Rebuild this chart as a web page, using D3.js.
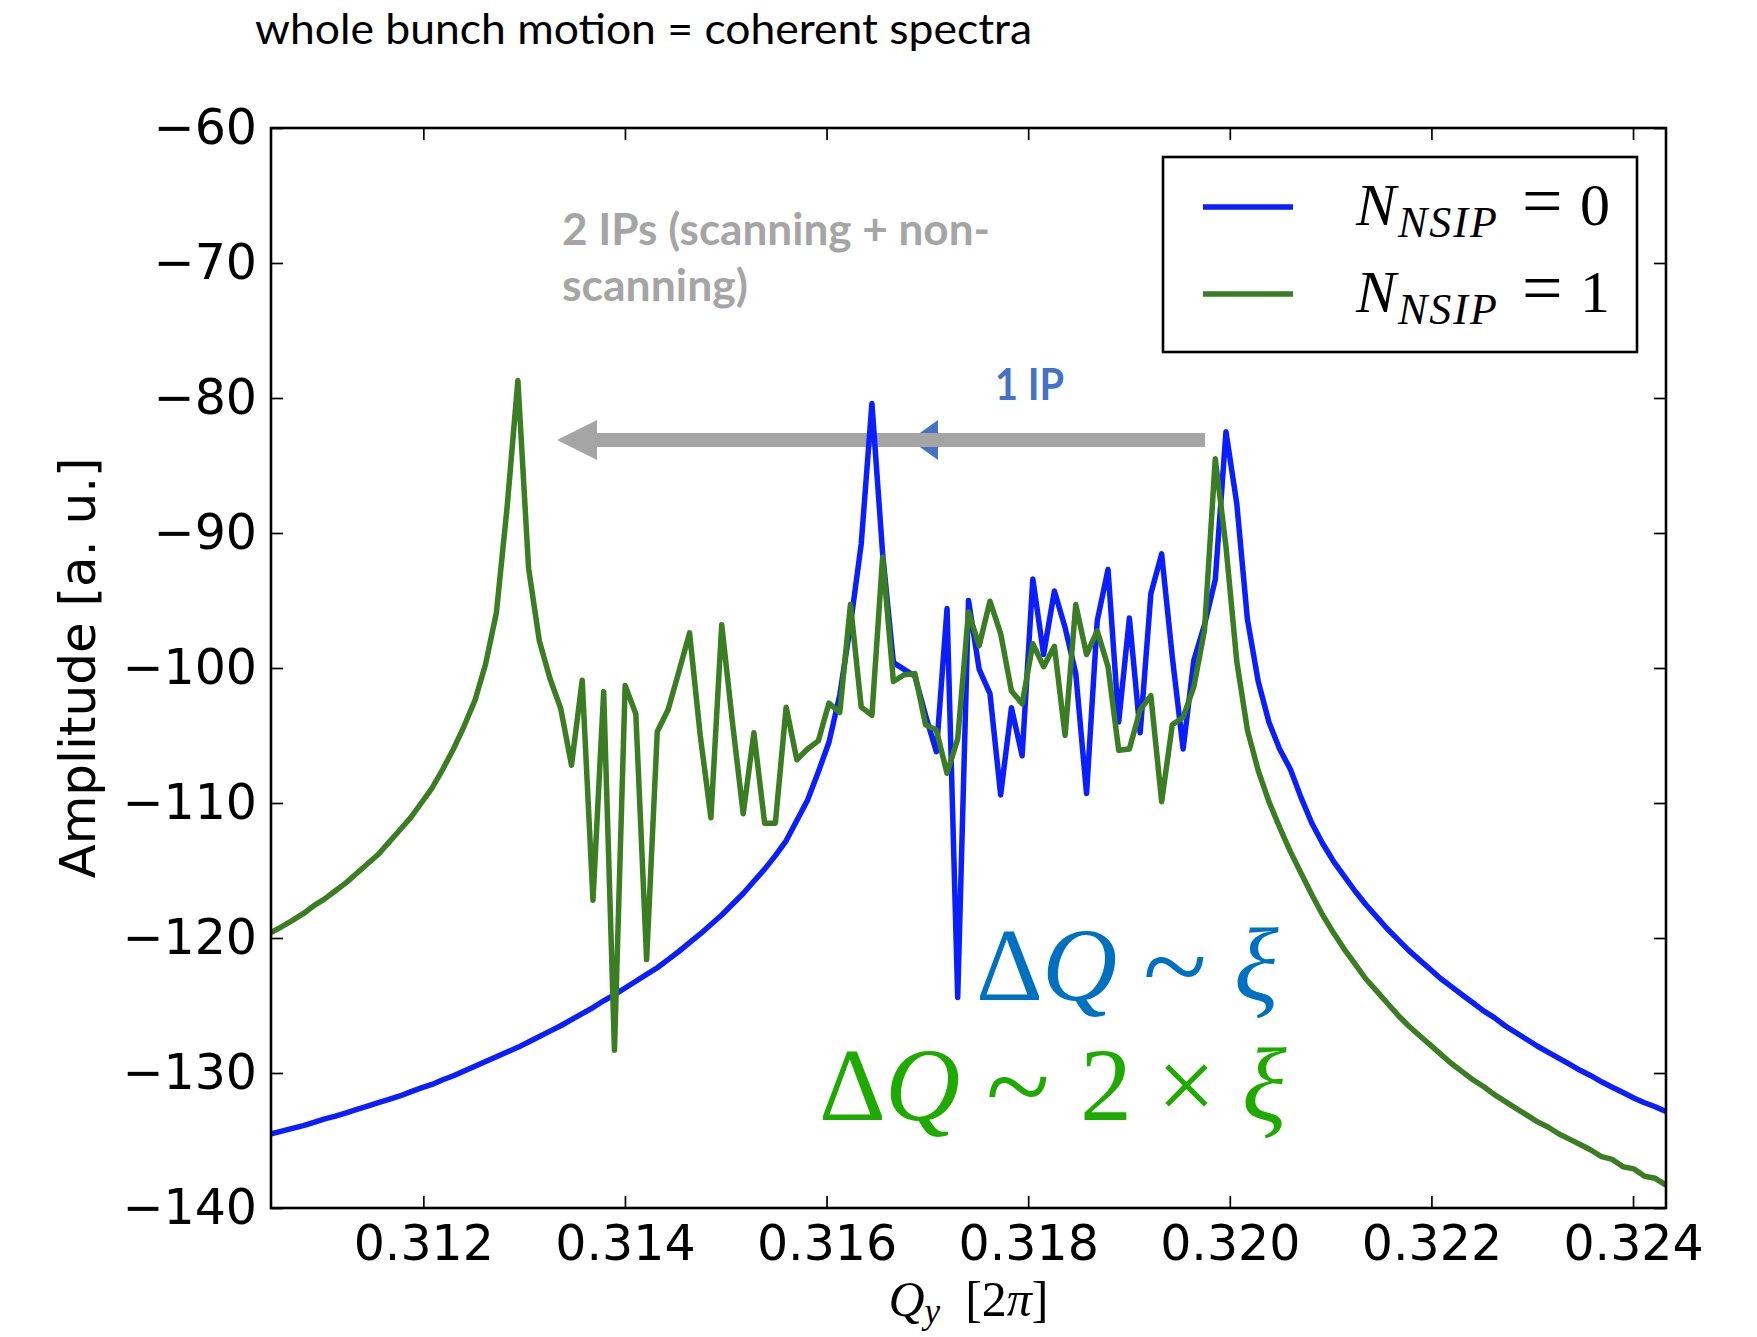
<!DOCTYPE html>
<html>
<head>
<meta charset="utf-8">
<script src="https://cdn.jsdelivr.net/npm/d3@7"></script>
<style>
body { margin: 0; background: #fff; }
svg { display: block; }
</style>
</head>
<body>
<script>
//tune bins (Q_y) shared by both spectra
var qBins = [
    0.310489, 0.310596, 0.310702, 0.310809, 0.310915, 0.311022, 0.311128, 0.311235, 0.311341, 0.311447,
    0.311554, 0.311660, 0.311767, 0.311873, 0.311980, 0.312086, 0.312193, 0.312299, 0.312405, 0.312512,
    0.312618, 0.312725, 0.312831, 0.312938, 0.313044, 0.313151, 0.313257, 0.313363, 0.313470, 0.313576,
    0.313683, 0.313789, 0.313896, 0.314002, 0.314108, 0.314215, 0.314321, 0.314428, 0.314534, 0.314641,
    0.314747, 0.314853, 0.314960, 0.315066, 0.315173, 0.315279, 0.315386, 0.315492, 0.315599, 0.315705,
    0.315811, 0.315918, 0.316024, 0.316131, 0.316237, 0.316344, 0.316450, 0.316556, 0.316663, 0.316769,
    0.316876, 0.316982, 0.317089, 0.317195, 0.317301, 0.317408, 0.317514, 0.317621, 0.317727, 0.317834,
    0.317940, 0.318046, 0.318153, 0.318260, 0.318366, 0.318472, 0.318579, 0.318685, 0.318792, 0.318898,
    0.319004, 0.319111, 0.319217, 0.319324, 0.319430, 0.319537, 0.319643, 0.319749, 0.319856, 0.319962,
    0.320069, 0.320175, 0.320282, 0.320388, 0.320494, 0.320601, 0.320707, 0.320814, 0.320921, 0.321027,
    0.321133, 0.321240, 0.321346, 0.321453, 0.321559, 0.321666, 0.321772, 0.321878, 0.321985, 0.322091,
    0.322198, 0.322304, 0.322411, 0.322517, 0.322624, 0.322730, 0.322836, 0.322943, 0.323049, 0.323156,
    0.323262, 0.323369, 0.323475, 0.323582, 0.323688, 0.323794, 0.323901, 0.324007, 0.324114, 0.324220,
    0.324327
];

//amplitude, N_NSIP = 0 (blue)
var ampNsip0 = [
    -134.5, -134.3, -134.1, -133.9, -133.65, -133.4, -133.2, -132.95, -132.7, -132.45,
    -132.2, -131.95, -131.7, -131.4, -131.1, -130.85, -130.5, -130.2, -129.85, -129.5,
    -129.15, -128.8, -128.45, -128.1, -127.7, -127.3, -126.9, -126.5, -126.05, -125.6,
    -125.15, -124.65, -124.2, -123.7, -123.2, -122.7, -122.2, -121.6, -121.0, -120.35,
    -119.7, -119.0, -118.3, -117.5, -116.7, -115.8, -114.9, -113.9, -112.8, -111.3,
    -109.8, -107.7, -105.5, -102.0, -96.8, -90.8, -80.4, -91.5, -99.6, -100.1,
    -100.6, -103.5, -106.2, -95.6, -124.4, -95.0, -100.1, -101.9, -109.4, -102.95,
    -106.5, -93.4, -99.0, -94.3, -97.0, -100.4, -109.3, -96.5, -92.7, -104.0,
    -96.3, -104.8, -94.5, -91.55, -99.2, -106.0, -99.45, -96.8, -93.45, -82.5,
    -87.8, -96.4, -101.0, -104.0, -106.0, -107.5, -109.6, -111.5, -113.0, -114.3,
    -115.4, -116.5, -117.5, -118.4, -119.3, -120.1, -120.9, -121.6, -122.3, -123.0,
    -123.6, -124.2, -124.8, -125.4, -125.9, -126.5, -127.0, -127.5, -128.0, -128.45,
    -128.9, -129.35, -129.8, -130.2, -130.65, -131.05, -131.45, -131.85, -132.2, -132.5,
    -132.85
];

//amplitude, N_NSIP = 1 (green)
var ampNsip1 = [
    -119.6, -119.15, -118.7, -118.2, -117.6, -117.1, -116.5, -115.9, -115.2, -114.5,
    -113.8, -112.9, -112.0, -111.1, -110.0, -108.9, -107.5, -106.0, -104.3, -102.4,
    -99.7, -95.9, -88.1, -78.7, -92.6, -98.0, -100.8, -103.0, -107.2, -100.9,
    -117.2, -101.75, -128.3, -101.3, -103.4, -121.6, -104.7, -103.1, -100.3, -97.4,
    -105.0, -111.1, -96.8, -104.0, -110.8, -104.8, -111.5, -111.5, -102.9, -106.8,
    -106.0, -105.4, -102.6, -103.3, -95.3, -102.9, -103.5, -91.8, -101.0, -100.5,
    -100.4, -104.2, -104.6, -107.8, -105.25, -95.85, -98.35, -95.05, -97.45, -101.7,
    -102.65, -98.2, -99.9, -98.4, -105.0, -95.3, -99.0, -97.25, -99.9, -106.1,
    -106.0, -103.1, -102.05, -109.9, -104.2, -103.65, -101.4, -97.2, -84.5, -91.0,
    -99.5, -104.6, -107.6, -109.9, -111.8, -113.6, -115.2, -116.8, -118.3, -119.6,
    -120.8, -121.9, -123.0, -123.9, -124.8, -125.7, -126.5, -127.2, -127.9, -128.6,
    -129.3, -129.9, -130.5, -131.0, -131.6, -132.1, -132.6, -133.1, -133.6, -134.0,
    -134.5, -134.9, -135.3, -135.7, -136.2, -136.4, -136.95, -137.1, -137.65, -137.8,
    -138.3
];

var xTickValues = [0.312, 0.314, 0.316, 0.318, 0.320, 0.322, 0.324];
var yTickValues = [-140, -130, -120, -110, -100, -90, -80, -70, -60];
var legendValues = ["0", "1"];
var lineColors = ["#0a1eff", "#3a7d22"];

window.onload = setChart;

function setChart(){
    //page and plot frame
    var width = 1757,
        height = 1337,
        plotLeft = 271,
        plotRight = 1666,
        plotTop = 128,
        plotBottom = 1208;

    var svg = d3.select("body")
        .append("svg")
        .attr("width", width)
        .attr("height", height);

    svg.append("rect")
        .attr("width", width)
        .attr("height", height)
        .attr("fill", "#fff");

    var xScale = d3.scaleLinear()
        .domain(d3.extent(qBins))
        .range([plotLeft, plotRight]);

    var yScale = d3.scaleLinear()
        .domain([-140, -60])
        .range([plotBottom, plotTop]);

    svg.append("clipPath")
        .attr("id", "plotClip")
        .append("rect")
        .attr("x", plotLeft)
        .attr("y", plotTop)
        .attr("width", plotRight - plotLeft)
        .attr("height", plotBottom - plotTop);

    setArrows(svg);
    setLines(svg, xScale, yScale);
    setAxes(svg, xScale, yScale, plotLeft, plotRight, plotTop, plotBottom);
    setLegend(svg);
    setTexts(svg);
};

function setArrows(svg){
    //blue "1 IP" arrow head, partly hidden by the grey arrow
    svg.append("path")
        .attr("d", "M910,440 L938,420 L938,460 Z")
        .attr("fill", "#4472c4");

    //grey arrow
    svg.append("rect")
        .attr("x", 595)
        .attr("y", 433)
        .attr("width", 610)
        .attr("height", 14)
        .attr("fill", "#a5a5a5");
    svg.append("path")
        .attr("d", "M557,440 L597,420 L597,460 Z")
        .attr("fill", "#a5a5a5");
};

function setLines(svg, xScale, yScale){
    var line = d3.line()
        .x(function(d, i){ return xScale(qBins[i]); })
        .y(function(d){ return yScale(d); });

    var lines = svg.append("g")
        .attr("clip-path", "url(#plotClip)");

    [ampNsip0, ampNsip1].forEach(function(series, i){
        lines.append("path")
            .datum(series)
            .attr("d", line)
            .attr("fill", "none")
            .attr("stroke", lineColors[i])
            .attr("stroke-width", 5.5)
            .attr("stroke-linejoin", "round");
    });
};

function setAxes(svg, xScale, yScale, plotLeft, plotRight, plotTop, plotBottom){
    var tickFont = "DejaVu Sans";

    //bottom axis with labels, ticks pointing in
    var xAxis = d3.axisBottom(xScale)
        .tickValues(xTickValues)
        .tickFormat(d3.format(".3f"))
        .tickSizeInner(-12)
        .tickSizeOuter(0)
        .tickPadding(17);
    var gx = svg.append("g")
        .attr("transform", "translate(0," + plotBottom + ")")
        .call(xAxis);

    var yAxis = d3.axisLeft(yScale)
        .tickValues(yTickValues)
        .tickFormat(d3.format("d"))
        .tickSizeInner(-12)
        .tickSizeOuter(0)
        .tickPadding(14);
    var gy = svg.append("g")
        .attr("transform", "translate(" + plotLeft + ",0)")
        .call(yAxis);

    //mirror ticks on top and right
    var gxTop = svg.append("g")
        .attr("transform", "translate(0," + plotTop + ")")
        .call(d3.axisTop(xScale).tickValues(xTickValues).tickFormat("").tickSizeInner(-12).tickSizeOuter(0));
    var gyRight = svg.append("g")
        .attr("transform", "translate(" + plotRight + ",0)")
        .call(d3.axisRight(yScale).tickValues(yTickValues).tickFormat("").tickSizeInner(-12).tickSizeOuter(0));

    [gx, gy, gxTop, gyRight].forEach(function(g){
        g.attr("font-family", tickFont).attr("font-size", 49);
        g.select(".domain").remove();
        g.selectAll(".tick line")
            .attr("stroke", "#000")
            .attr("stroke-width", 1.7);
        g.selectAll(".tick text").attr("fill", "#000");
    });

    //frame
    svg.append("rect")
        .attr("x", plotLeft)
        .attr("y", plotTop)
        .attr("width", plotRight - plotLeft)
        .attr("height", plotBottom - plotTop)
        .attr("fill", "none")
        .attr("stroke", "#000")
        .attr("stroke-width", 2.6);

    //axis titles
    svg.append("text")
        .attr("transform", "translate(95," + ((plotTop + plotBottom) / 2) + ") rotate(-90)")
        .attr("text-anchor", "middle")
        .attr("font-family", tickFont)
        .attr("font-size", 50)
        .attr("fill", "#000")
        .text("Amplitude [a. u.]");

    var xTitle = svg.append("text")
        .attr("x", (plotLeft + plotRight) / 2)
        .attr("y", 1316)
        .attr("text-anchor", "middle")
        .attr("font-family", "Liberation Serif")
        .attr("font-size", 50)
        .attr("fill", "#000");
    xTitle.append("tspan").attr("font-style", "italic").text("Q");
    xTitle.append("tspan").attr("font-style", "italic").attr("font-size", 35).attr("dy", 7).text("y");
    xTitle.append("tspan").attr("dy", -7).text("\u2002[2");
    xTitle.append("tspan").attr("font-style", "italic").text("\u03c0");
    xTitle.append("tspan").text("]");
};

function setLegend(svg){
    svg.append("rect")
        .attr("x", 1163)
        .attr("y", 157)
        .attr("width", 474)
        .attr("height", 195)
        .attr("fill", "#fff")
        .attr("stroke", "#000")
        .attr("stroke-width", 2.6);

    var rowY = [207, 294];

    legendValues.forEach(function(val, i){
        var base = rowY[i] + 18;
        svg.append("line")
            .attr("x1", 1203)
            .attr("x2", 1293)
            .attr("y1", rowY[i])
            .attr("y2", rowY[i])
            .attr("stroke", lineColors[i])
            .attr("stroke-width", 5.5);

        //N_NSIP = value, as one text with placed pieces
        var label = svg.append("text")
            .attr("y", base)
            .attr("font-family", "Liberation Serif")
            .attr("font-size", 60)
            .attr("fill", "#000");
        label.append("tspan")
            .attr("x", 1356).attr("y", base)
            .attr("font-style", "italic")
            .text("N");
        label.append("tspan")
            .attr("x", 1398).attr("y", base + 12)
            .attr("font-style", "italic")
            .attr("font-size", 44)
            .attr("letter-spacing", 2)
            .text("NSIP");
        label.append("tspan")
            .attr("x", 1522).attr("y", base)
            .attr("font-size", 72)
            .text("=");
        label.append("tspan")
            .attr("x", 1580).attr("y", base)
            .text(val);
    });
};

function setTexts(svg){
    //slide title
    svg.append("text")
        .attr("x", 255)
        .attr("y", 44)
        .attr("font-family", "Lato")
        .attr("font-size", 42)
        .attr("fill", "#000")
        .attr("textLength", 777)
        .attr("lengthAdjust", "spacingAndGlyphs")
        .text("whole bunch motion = coherent spectra");

    //grey annotation
    var grey = svg.append("g")
        .attr("font-family", "Lato")
        .attr("font-weight", "bold")
        .attr("font-size", 43)
        .attr("fill", "#a5a5a5");
    grey.append("text")
        .attr("x", 562).attr("y", 245)
        .attr("textLength", 428)
        .attr("lengthAdjust", "spacingAndGlyphs")
        .text("2 IPs (scanning + non-");
    grey.append("text")
        .attr("x", 562).attr("y", 301)
        .attr("textLength", 186)
        .attr("lengthAdjust", "spacingAndGlyphs")
        .text("scanning)");

    svg.append("text")
        .attr("x", 995).attr("y", 400)
        .attr("font-family", "Lato")
        .attr("font-weight", "bold")
        .attr("font-size", 43)
        .attr("fill", "#4472c4")
        .attr("textLength", 69)
        .attr("lengthAdjust", "spacingAndGlyphs")
        .text("1 IP");

    //tune shift formulas, one text each, glyphs placed one by one
    var formulaRows = [
        {y: 1000, color: "#0070c0", parts: [
            {x: 976, t: "\u0394", it: false},
            {x: 1042, t: "Q", it: true},
            {x: 1143, t: "~", it: false, big: true},
            {x: 1234, t: "\u03be", it: true}
        ]},
        {y: 1120, color: "#1faa00", parts: [
            {x: 819, t: "\u0394", it: false},
            {x: 885, t: "Q", it: true},
            {x: 986, t: "~", it: false, big: true},
            {x: 1080, t: "2", it: false},
            {x: 1157, t: "\u00d7", it: false},
            {x: 1242, t: "\u03be", it: true}
        ]}
    ];

    formulaRows.forEach(function(row){
        var t = svg.append("text")
            .attr("y", row.y)
            .attr("font-family", "Liberation Serif")
            .attr("font-size", 104)
            .attr("fill", row.color);
        row.parts.forEach(function(p){
            t.append("tspan")
                .attr("x", p.x)
                .attr("y", p.big ? row.y + 6 : row.y)
                .attr("font-size", p.big ? 118 : null)
                .attr("font-style", p.it ? "italic" : "normal")
                .text(p.t);
        });
    });
};
</script>
</body>
</html>
